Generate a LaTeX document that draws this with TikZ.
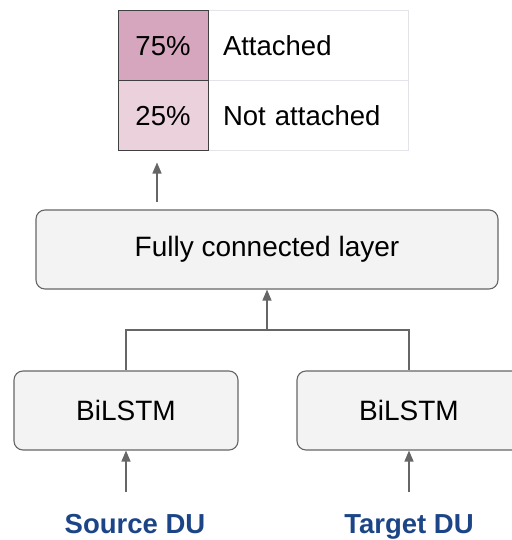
\documentclass[tikz,border=0pt]{standalone}
\usepackage{fontspec}
\setmainfont{Liberation Sans}
\usetikzlibrary{positioning,arrows.meta}
\definecolor{boxgrey}{HTML}{F3F3F3}
\definecolor{linegrey}{HTML}{666666}
\definecolor{highpink}{HTML}{D5A6BD}
\definecolor{lowpink}{HTML}{EAD1DC}
\definecolor{cellgrey}{HTML}{E3E3EA}
\definecolor{dublue}{HTML}{1C4587}

\begin{document}
\begin{tikzpicture}[
    x=1pt, y=-1pt,
    >={Triangle[length=11pt,width=9pt]},
    layer/.style={
        draw=linegrey,
        line width=1.1pt,
        rounded corners=9pt,
        fill=boxgrey,
        inner sep=0pt,
        font=\fontsize{28}{32}\selectfont,
        minimum height=79pt
    },
    probcell/.style={
        draw=black!75,
        line width=1pt,
        inner sep=0pt,
        minimum width=90pt,
        minimum height=70pt,
        font=\fontsize{27.5}{32}\selectfont
    },
    labelcell/.style={
        draw=cellgrey,
        line width=1pt,
        fill=white,
        inner xsep=15pt,
        inner ysep=0pt,
        text width=170pt,
        align=left,
        minimum height=70pt,
        font=\fontsize{27.5}{32}\selectfont
    },
    inputlabel/.style={
        anchor=base,
        text=dublue,
        font=\fontsize{27.5}{32}\selectfont\bfseries
    },
    arrow/.style={->, draw=linegrey, line width=1.3pt}
]
\useasboundingbox (0,0) rectangle (511,540);

% OUTPUT TABLE
\node[labelcell] (l75) at (308,46) {Attached};
\node[labelcell] (l25) at (308,116) {Not attached};
\node[probcell, fill=highpink] (c75) at (163,46) {75\%};
\node[probcell, fill=lowpink] (c25) at (163,116) {25\%};

% LAYERS
\node[layer, minimum width=462pt] (fc) at (267,249.5) {Fully connected layer};
\node[layer, minimum width=224pt] (lstmsrc) at (126,410.5) {BiLSTM};
\node[layer, minimum width=224pt] (lstmtgt) at (409,410.5) {BiLSTM};

% INPUTS
\node[inputlabel] (src) at (135,533) {Source DU};
\node[inputlabel] (tgt) at (409,533) {Target DU};

\coordinate (join) at (267,330);
\coordinate (outbot) at (157,202);
\coordinate (srcin) at (126,492);
\coordinate (tgtin) at (409,492);

\draw[arrow] (srcin) -- (srcin |- lstmsrc.south);
\draw[arrow] (tgtin) -- (tgtin |- lstmtgt.south);
\draw[draw=linegrey, line width=1.3pt] (lstmsrc.north) |- (join) -| (lstmtgt.north);
\draw[arrow] (join) -- (fc.south);
\draw[arrow, shorten >=11pt] (outbot) -- (outbot |- c25.south);

\end{tikzpicture}
\end{document}
